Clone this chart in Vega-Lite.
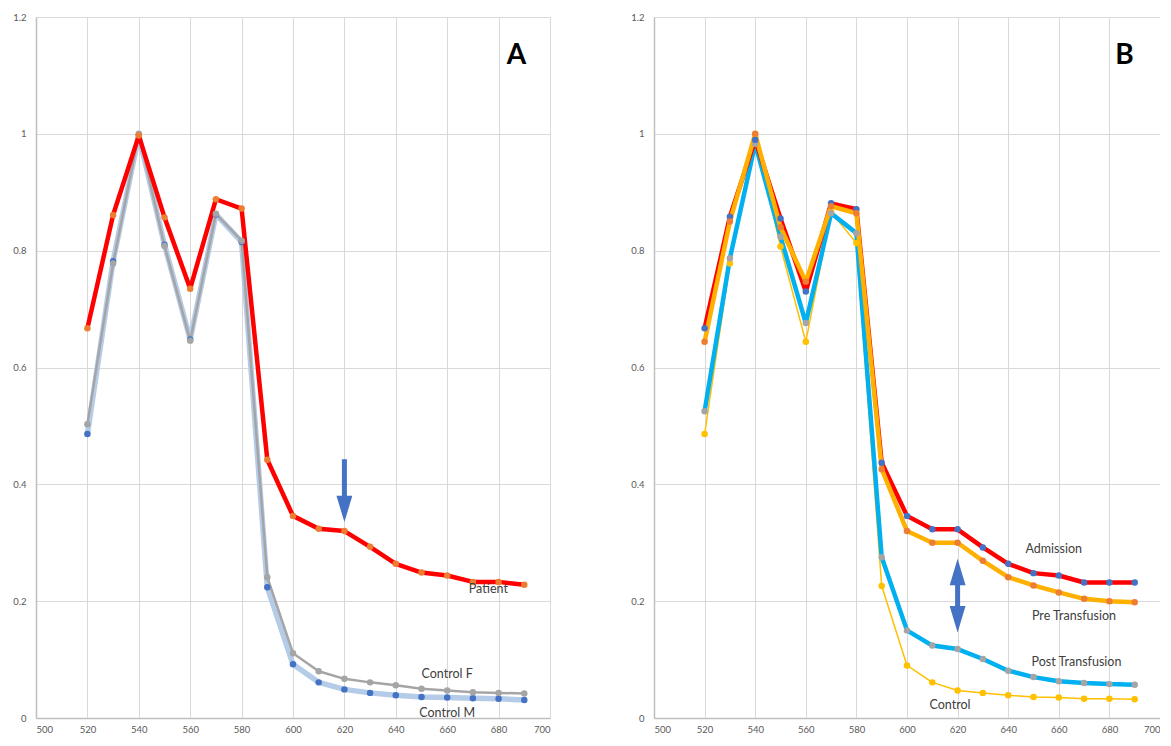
{
  "$schema": "https://vega.github.io/schema/vega-lite/v6.json",
  "background": "white",
  "padding": {"left": 6, "top": 12, "right": 0, "bottom": 0},
  "bounds": "flush",
  "spacing": 104,
  "resolve": {"scale": {"stroke": "independent", "fill": "independent", "strokeWidth": "independent"}},
  "config": {
    "view": {"stroke": null},
    "axis": {
      "grid": true,
      "gridColor": "#D9D9D9",
      "gridWidth": 1,
      "domainColor": "#BFBFBF",
      "domainWidth": 1.5,
      "ticks": false,
      "labelColor": "#595959",
      "labelFont": "Lato",
      "labelFontSize": 9.5,
      "title": null
    }
  },
  "datasets": {
    "A": [
      {"wl": 520, "v": 0.486, "s": "Control M"}, {"wl": 530, "v": 0.782, "s": "Control M"}, {"wl": 540, "v": 0.998, "s": "Control M"}, {"wl": 550, "v": 0.81, "s": "Control M"}, {"wl": 560, "v": 0.648, "s": "Control M"}, {"wl": 570, "v": 0.862, "s": "Control M"}, {"wl": 580, "v": 0.815, "s": "Control M"}, {"wl": 590, "v": 0.224, "s": "Control M"}, {"wl": 600, "v": 0.092, "s": "Control M"}, {"wl": 610, "v": 0.061, "s": "Control M"}, {"wl": 620, "v": 0.049, "s": "Control M"}, {"wl": 630, "v": 0.043, "s": "Control M"}, {"wl": 640, "v": 0.039, "s": "Control M"}, {"wl": 650, "v": 0.036, "s": "Control M"}, {"wl": 660, "v": 0.035, "s": "Control M"}, {"wl": 670, "v": 0.034, "s": "Control M"}, {"wl": 680, "v": 0.033, "s": "Control M"}, {"wl": 690, "v": 0.031, "s": "Control M"},
      {"wl": 520, "v": 0.503, "s": "Control F"}, {"wl": 530, "v": 0.778, "s": "Control F"}, {"wl": 540, "v": 1.0, "s": "Control F"}, {"wl": 550, "v": 0.808, "s": "Control F"}, {"wl": 560, "v": 0.646, "s": "Control F"}, {"wl": 570, "v": 0.863, "s": "Control F"}, {"wl": 580, "v": 0.817, "s": "Control F"}, {"wl": 590, "v": 0.241, "s": "Control F"}, {"wl": 600, "v": 0.111, "s": "Control F"}, {"wl": 610, "v": 0.08, "s": "Control F"}, {"wl": 620, "v": 0.067, "s": "Control F"}, {"wl": 630, "v": 0.061, "s": "Control F"}, {"wl": 640, "v": 0.056, "s": "Control F"}, {"wl": 650, "v": 0.05, "s": "Control F"}, {"wl": 660, "v": 0.047, "s": "Control F"}, {"wl": 670, "v": 0.044, "s": "Control F"}, {"wl": 680, "v": 0.043, "s": "Control F"}, {"wl": 690, "v": 0.042, "s": "Control F"},
      {"wl": 520, "v": 0.667, "s": "Patient"}, {"wl": 530, "v": 0.861, "s": "Patient"}, {"wl": 540, "v": 0.997, "s": "Patient"}, {"wl": 550, "v": 0.857, "s": "Patient"}, {"wl": 560, "v": 0.735, "s": "Patient"}, {"wl": 570, "v": 0.888, "s": "Patient"}, {"wl": 580, "v": 0.872, "s": "Patient"}, {"wl": 590, "v": 0.442, "s": "Patient"}, {"wl": 600, "v": 0.346, "s": "Patient"}, {"wl": 610, "v": 0.324, "s": "Patient"}, {"wl": 620, "v": 0.32, "s": "Patient"}, {"wl": 630, "v": 0.293, "s": "Patient"}, {"wl": 640, "v": 0.264, "s": "Patient"}, {"wl": 650, "v": 0.249, "s": "Patient"}, {"wl": 660, "v": 0.244, "s": "Patient"}, {"wl": 670, "v": 0.233, "s": "Patient"}, {"wl": 680, "v": 0.233, "s": "Patient"}, {"wl": 690, "v": 0.228, "s": "Patient"}
    ],
    "B": [
      {"wl": 520, "v": 0.486, "s": "Control"}, {"wl": 530, "v": 0.778, "s": "Control"}, {"wl": 540, "v": 0.998, "s": "Control"}, {"wl": 550, "v": 0.807, "s": "Control"}, {"wl": 560, "v": 0.644, "s": "Control"}, {"wl": 570, "v": 0.866, "s": "Control"}, {"wl": 580, "v": 0.813, "s": "Control"}, {"wl": 590, "v": 0.226, "s": "Control"}, {"wl": 600, "v": 0.09, "s": "Control"}, {"wl": 610, "v": 0.061, "s": "Control"}, {"wl": 620, "v": 0.047, "s": "Control"}, {"wl": 630, "v": 0.043, "s": "Control"}, {"wl": 640, "v": 0.039, "s": "Control"}, {"wl": 650, "v": 0.036, "s": "Control"}, {"wl": 660, "v": 0.035, "s": "Control"}, {"wl": 670, "v": 0.033, "s": "Control"}, {"wl": 680, "v": 0.033, "s": "Control"}, {"wl": 690, "v": 0.032, "s": "Control"},
      {"wl": 520, "v": 0.525, "s": "Post Transfusion"}, {"wl": 530, "v": 0.787, "s": "Post Transfusion"}, {"wl": 540, "v": 0.983, "s": "Post Transfusion"}, {"wl": 550, "v": 0.824, "s": "Post Transfusion"}, {"wl": 560, "v": 0.676, "s": "Post Transfusion"}, {"wl": 570, "v": 0.864, "s": "Post Transfusion"}, {"wl": 580, "v": 0.83, "s": "Post Transfusion"}, {"wl": 590, "v": 0.275, "s": "Post Transfusion"}, {"wl": 600, "v": 0.15, "s": "Post Transfusion"}, {"wl": 610, "v": 0.124, "s": "Post Transfusion"}, {"wl": 620, "v": 0.118, "s": "Post Transfusion"}, {"wl": 630, "v": 0.101, "s": "Post Transfusion"}, {"wl": 640, "v": 0.081, "s": "Post Transfusion"}, {"wl": 650, "v": 0.07, "s": "Post Transfusion"}, {"wl": 660, "v": 0.063, "s": "Post Transfusion"}, {"wl": 670, "v": 0.06, "s": "Post Transfusion"}, {"wl": 680, "v": 0.058, "s": "Post Transfusion"}, {"wl": 690, "v": 0.057, "s": "Post Transfusion"},
      {"wl": 520, "v": 0.667, "s": "Admission"}, {"wl": 530, "v": 0.858, "s": "Admission"}, {"wl": 540, "v": 0.99, "s": "Admission"}, {"wl": 550, "v": 0.855, "s": "Admission"}, {"wl": 560, "v": 0.73, "s": "Admission"}, {"wl": 570, "v": 0.881, "s": "Admission"}, {"wl": 580, "v": 0.871, "s": "Admission"}, {"wl": 590, "v": 0.437, "s": "Admission"}, {"wl": 600, "v": 0.346, "s": "Admission"}, {"wl": 610, "v": 0.323, "s": "Admission"}, {"wl": 620, "v": 0.323, "s": "Admission"}, {"wl": 630, "v": 0.292, "s": "Admission"}, {"wl": 640, "v": 0.264, "s": "Admission"}, {"wl": 650, "v": 0.248, "s": "Admission"}, {"wl": 660, "v": 0.244, "s": "Admission"}, {"wl": 670, "v": 0.232, "s": "Admission"}, {"wl": 680, "v": 0.232, "s": "Admission"}, {"wl": 690, "v": 0.232, "s": "Admission"},
      {"wl": 520, "v": 0.644, "s": "Pre Transfusion"}, {"wl": 530, "v": 0.85, "s": "Pre Transfusion"}, {"wl": 540, "v": 1.0, "s": "Pre Transfusion"}, {"wl": 550, "v": 0.84, "s": "Pre Transfusion"}, {"wl": 560, "v": 0.747, "s": "Pre Transfusion"}, {"wl": 570, "v": 0.876, "s": "Pre Transfusion"}, {"wl": 580, "v": 0.864, "s": "Pre Transfusion"}, {"wl": 590, "v": 0.426, "s": "Pre Transfusion"}, {"wl": 600, "v": 0.32, "s": "Pre Transfusion"}, {"wl": 610, "v": 0.3, "s": "Pre Transfusion"}, {"wl": 620, "v": 0.3, "s": "Pre Transfusion"}, {"wl": 630, "v": 0.269, "s": "Pre Transfusion"}, {"wl": 640, "v": 0.241, "s": "Pre Transfusion"}, {"wl": 650, "v": 0.227, "s": "Pre Transfusion"}, {"wl": 660, "v": 0.215, "s": "Pre Transfusion"}, {"wl": 670, "v": 0.204, "s": "Pre Transfusion"}, {"wl": 680, "v": 0.2, "s": "Pre Transfusion"}, {"wl": 690, "v": 0.198, "s": "Pre Transfusion"}
    ],
    "labelsA": [
      {"x": 676, "y": 0.22, "t": "Patient"},
      {"x": 660, "y": 0.075, "t": "Control F"},
      {"x": 660, "y": 0.008, "t": "Control M"}
    ],
    "labelsB": [
      {"x": 658, "y": 0.29, "t": "Admission"},
      {"x": 666, "y": 0.174, "t": "Pre Transfusion"},
      {"x": 667, "y": 0.096, "t": "Post Transfusion"},
      {"x": 617, "y": 0.022, "t": "Control"}
    ],
    "panelA": [{"x": 687, "y": 1.134, "t": "A"}],
    "panelB": [{"x": 686, "y": 1.134, "t": "B"}],
    "arrowA": [{"x": 620, "y1": 0.443, "y2": 0.38, "hy": 0.358}],
    "arrowB": [{"x": 620, "y1": 0.232, "y2": 0.188, "hu": 0.25, "hd": 0.169}]
  },
  "hconcat": [
    {
      "width": 514,
      "height": 701,
      "layer": [
        {
          "data": {"name": "A"},
          "mark": {"type": "line", "strokeJoin": "round", "strokeCap": "round"},
          "encoding": {
            "x": {"field": "wl", "type": "quantitative", "scale": {"domain": [500, 700], "nice": false}, "axis": {"values": [500, 520, 540, 560, 580, 600, 620, 640, 660, 680, 700], "labelPadding": 6, "minExtent": 20, "maxExtent": 20}},
            "y": {"field": "v", "type": "quantitative", "scale": {"domain": [0, 1.2], "nice": false}, "axis": {"values": [0, 0.2, 0.4, 0.6, 0.8, 1, 1.2], "format": "~g", "labelPadding": 10, "minExtent": 30, "maxExtent": 30}},
            "stroke": {"field": "s", "type": "nominal", "sort": null, "scale": {"domain": ["Control M", "Control F", "Patient"], "range": ["#B4CCE8", "#A5A5A5", "#FF0000"]}, "legend": null},
            "strokeWidth": {"field": "s", "type": "nominal", "scale": {"type": "ordinal", "domain": ["Control M", "Control F", "Patient"], "range": [5.5, 2.5, 4.5]}, "legend": null}
          }
        },
        {
          "data": {"name": "A"},
          "mark": {"type": "point", "filled": true, "size": 42, "opacity": 1},
          "encoding": {
            "x": {"field": "wl", "type": "quantitative"},
            "y": {"field": "v", "type": "quantitative"},
            "fill": {"field": "s", "type": "nominal", "scale": {"domain": ["Control M", "Control F", "Patient"], "range": ["#4472C4", "#A5A5A5", "#ED7D31"]}, "legend": null}
          }
        },
        {
          "data": {"name": "arrowA"},
          "mark": {"type": "rule", "color": "#4472C4", "strokeWidth": 5},
          "encoding": {"x": {"field": "x", "type": "quantitative"}, "y": {"field": "y1", "type": "quantitative"}, "y2": {"field": "y2"}}
        },
        {
          "data": {"name": "arrowA"},
          "mark": {"type": "point", "filled": true, "opacity": 1, "color": "#4472C4", "shape": "M-0.6,-1L0.6,-1L0,1Z", "size": 700},
          "encoding": {"x": {"field": "x", "type": "quantitative"}, "y": {"field": "hy", "type": "quantitative"}}
        },
        {
          "data": {"name": "labelsA"},
          "mark": {"type": "text", "font": "Lato", "fontSize": 12.5, "color": "#404040"},
          "encoding": {"x": {"field": "x", "type": "quantitative"}, "y": {"field": "y", "type": "quantitative"}, "text": {"field": "t"}}
        },
        {
          "data": {"name": "panelA"},
          "mark": {"type": "text", "font": "Lato", "fontSize": 28, "fontWeight": "bold", "color": "#000000"},
          "encoding": {"x": {"field": "x", "type": "quantitative"}, "y": {"field": "y", "type": "quantitative"}, "text": {"field": "t"}}
        }
      ]
    },
    {
      "width": 506,
      "height": 701,
      "layer": [
        {
          "data": {"name": "B"},
          "mark": {"type": "line", "strokeJoin": "round", "strokeCap": "round"},
          "encoding": {
            "x": {"field": "wl", "type": "quantitative", "scale": {"domain": [500, 700], "nice": false}, "axis": {"values": [500, 520, 540, 560, 580, 600, 620, 640, 660, 680, 700], "labelPadding": 6, "minExtent": 20, "maxExtent": 20}},
            "y": {"field": "v", "type": "quantitative", "scale": {"domain": [0, 1.2], "nice": false}, "axis": {"values": [0, 0.2, 0.4, 0.6, 0.8, 1, 1.2], "format": "~g", "labelPadding": 10, "minExtent": 30, "maxExtent": 30}},
            "stroke": {"field": "s", "type": "nominal", "sort": null, "scale": {"domain": ["Control", "Post Transfusion", "Admission", "Pre Transfusion"], "range": ["#FFC000", "#00B0F0", "#FF0000", "#FFB000"]}, "legend": null},
            "strokeWidth": {"field": "s", "type": "nominal", "scale": {"type": "ordinal", "domain": ["Control", "Post Transfusion", "Admission", "Pre Transfusion"], "range": [1.5, 4.5, 4.5, 4.5]}, "legend": null}
          }
        },
        {
          "data": {"name": "B"},
          "mark": {"type": "point", "filled": true, "size": 42, "opacity": 1},
          "encoding": {
            "x": {"field": "wl", "type": "quantitative"},
            "y": {"field": "v", "type": "quantitative"},
            "fill": {"field": "s", "type": "nominal", "scale": {"domain": ["Control", "Post Transfusion", "Admission", "Pre Transfusion"], "range": ["#FFC000", "#A5A5A5", "#4472C4", "#ED7D31"]}, "legend": null}
          }
        },
        {
          "data": {"name": "arrowB"},
          "mark": {"type": "rule", "color": "#4472C4", "strokeWidth": 5},
          "encoding": {"x": {"field": "x", "type": "quantitative"}, "y": {"field": "y1", "type": "quantitative"}, "y2": {"field": "y2"}}
        },
        {
          "data": {"name": "arrowB"},
          "mark": {"type": "point", "filled": true, "opacity": 1, "color": "#4472C4", "shape": "M-0.6,1L0.6,1L0,-1Z", "size": 700},
          "encoding": {"x": {"field": "x", "type": "quantitative"}, "y": {"field": "hu", "type": "quantitative"}}
        },
        {
          "data": {"name": "arrowB"},
          "mark": {"type": "point", "filled": true, "opacity": 1, "color": "#4472C4", "shape": "M-0.6,-1L0.6,-1L0,1Z", "size": 700},
          "encoding": {"x": {"field": "x", "type": "quantitative"}, "y": {"field": "hd", "type": "quantitative"}}
        },
        {
          "data": {"name": "labelsB"},
          "mark": {"type": "text", "font": "Lato", "fontSize": 12.5, "color": "#404040"},
          "encoding": {"x": {"field": "x", "type": "quantitative"}, "y": {"field": "y", "type": "quantitative"}, "text": {"field": "t"}}
        },
        {
          "data": {"name": "panelB"},
          "mark": {"type": "text", "font": "Lato", "fontSize": 28, "fontWeight": "bold", "color": "#000000"},
          "encoding": {"x": {"field": "x", "type": "quantitative"}, "y": {"field": "y", "type": "quantitative"}, "text": {"field": "t"}}
        }
      ]
    }
  ]
}
